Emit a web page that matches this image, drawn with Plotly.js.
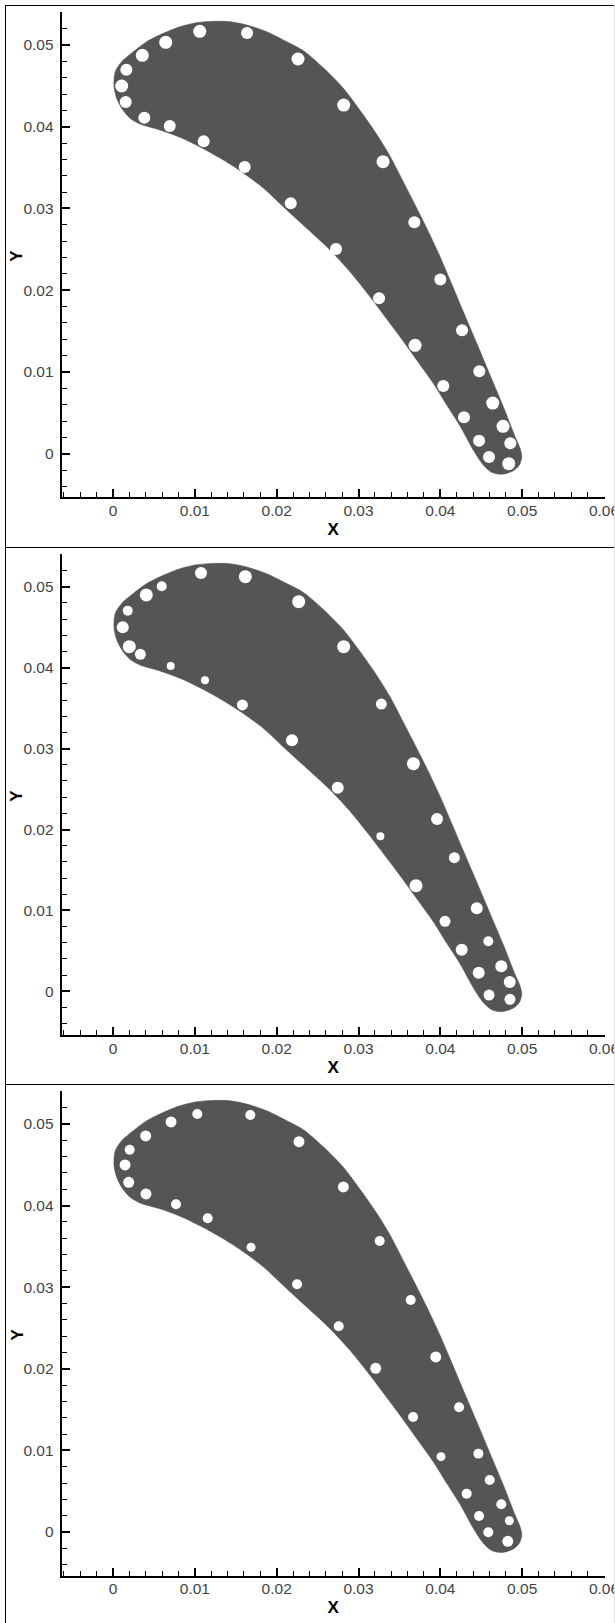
<!DOCTYPE html>
<html>
<head>
<meta charset="utf-8">
<script src="https://cdn.plot.ly/plotly-3.0.1.min.js"></script>
<style>html,body{margin:0;padding:0;background:#fff;overflow:hidden}#chart{width:615px;height:1623px}</style>
</head>
<body>
<div id="chart"></div>
<script>
const bladeX = [.00012,.00028,.00106,.00248,.00412,.00615,.00819,.01023,.01226,.01430,.01634,.01878,.02123,.02326,.02570,.02814,.03018,.03223,.03385,.03548,.03711,.03874,.03996,.04118,.04281,.04445,.04607,.04770,.04913,.04974,.04995,.04965,.04892,.04750,.04628,.04525,.04403,.04241,.04078,.03914,.03711,.03507,.03263,.03141,.02896,.02652,.02367,.02081,.01837,.01592,.01348,.01063,.00819,.00574,.00330,.00208,.00106,.00045,.00012];
const bladeY = [.04498,.04673,.04795,.04917,.05040,.05142,.05223,.05272,.05289,.05284,.05244,.05162,.05040,.04930,.04720,.04470,.04200,.03905,.03640,.03325,.03005,.02675,.02410,.02125,.01737,.01350,.00963,.00575,.00208,.00066,-.00037,-.00138,-.00208,-.00252,-.00228,-.00138,.00045,.00340,.00596,.00861,.01146,.01431,.01758,.01920,.02226,.02492,.02757,.03021,.03250,.03435,.03593,.03752,.03870,.03960,.04033,.04103,.04225,.04347,.04498];
const holes1X = [.00106,.00163,.00155,.00358,.00383,.00644,.00693,.01060,.01108,.01638,.01609,.02261,.02172,.02819,.02725,.03300,.03251,.03682,.0400,.03691,.04265,.04036,.04476,.04289,.04640,.04766,.04473,.04855,.04595,.04836];
const holes1Y = [.04498,.04697,.04302,.04873,.04110,.05032,.04008,.05167,.03821,.05146,.03507,.04828,.03063,.04265,.02504,.03572,.01901,.02831,.0213,.01326,.01509,.00828,.01008,.00445,.00620,.00335,.00159,.00127,-.00040,-.00122];
const holes1D = [.00159,.00147,.00147,.00159,.00147,.00159,.00147,.00159,.00147,.00147,.00147,.00159,.00147,.00159,.00147,.00159,.00147,.00147,.00147,.00159,.00147,.00147,.00147,.00147,.00159,.00159,.00147,.00147,.00147,.00159];
const holes2X = [.00119,.00180,.00199,.00334,.00407,.00595,.00705,.01075,.01124,.01617,.01581,.02187,.02269,.02819,.02746,.03279,.03267,.03671,.0396,.04171,.03703,.04057,.04445,.04261,.04586,.04469,.04745,.04848,.04595,.04851];
const holes2Y = [.04499,.04705,.04260,.04166,.04899,.05006,.04021,.05171,.03844,.05125,.03539,.03103,.04816,.04260,.02517,.03551,.01916,.02814,.0213,.01651,.01305,.00865,.01026,.00514,.00618,.00230,.00309,.00115,-.00046,-.00099];
const holes2D = [.00147,.00122,.00159,.00134,.00159,.00122,.00098,.00147,.00098,.00159,.00134,.00147,.00159,.00159,.00147,.00134,.00098,.00159,.00147,.00134,.00159,.00134,.00147,.00147,.00122,.00147,.00147,.00147,.00134,.00134];
const holes3X = [.00147,.00204,.00192,.00400,.00403,.00709,.00770,.01030,.01157,.01678,.01687,.02249,.02273,.02815,.02758,.03259,.03210,.03638,.03944,.04229,.03667,.04008,.04465,.04322,.04603,.04473,.04745,.04843,.04586,.04824];
const holes3Y = [.04498,.04685,.04285,.04853,.04142,.05025,.04016,.05123,.03844,.05110,.03489,.03035,.04783,.04228,.02521,.03566,.02006,.02843,.02145,.01528,.01409,.00923,.00960,.00469,.00637,.00196,.00339,.00138,-.00004,-.00114];
const holes3D = [.00134,.00122,.00134,.00134,.00134,.00134,.00122,.00122,.00122,.00122,.0011,.00122,.00134,.00134,.00122,.00122,.00134,.00122,.00134,.00122,.00122,.0011,.00122,.00122,.00122,.00122,.00122,.0011,.00122,.00134];
const majorStep = 0.01;
const minorStep = 0.002;
const xTitle = 'X';
const yTitle = 'Y';
const W = 615, H = 1623;
const pxPerUnit = 8183;
const panels = [
  {top:12.0, bottom:497.3, ymin:-0.00533, hx:holes1X, hy:holes1Y, hd:holes1D},
  {top:554.2, bottom:1035.3, ymin:-0.00544, hx:holes2X, hy:holes2Y, hd:holes2D},
  {top:1091.1, bottom:1575.7, ymin:-0.00536, hx:holes3X, hy:holes3Y, hd:holes3D}
];
const tickFont = {family:'"Liberation Sans", Arial, sans-serif', size:15.5, color:'#444'};
const titleFont = {family:'"Liberation Sans", Arial, sans-serif', size:17, color:'#000', weight:700};
const traces = [];
const layout = {width:W, height:H, margin:{l:0,r:0,t:0,b:0}, showlegend:false, paper_bgcolor:'#fff', plot_bgcolor:'#fff', shapes:[], annotations:[]};
panels.forEach((p,i)=>{
  const s = i===0 ? '' : String(i+1);
  traces.push({x:bladeX, y:bladeY, xaxis:'x'+s, yaxis:'y'+s, type:'scatter', mode:'lines',
    fill:'toself', fillcolor:'#555555', line:{color:'#555555', width:0.6, shape:'spline', smoothing:0.8}, hoverinfo:'skip'});
  traces.push({x:p.hx, y:p.hy, xaxis:'x'+s, yaxis:'y'+s, type:'scatter', mode:'markers',
    marker:{color:'#ffffff', opacity:1, size:p.hd.map(d=>d*pxPerUnit), line:{width:0}}, hoverinfo:'skip'});
  const common = {showgrid:false, zeroline:false, showline:true, linecolor:'#000', linewidth:2,
    ticks:'inside', tickcolor:'#000', tickwidth:2, ticklen:8, tickfont:tickFont,
    tickmode:'linear', tick0:0, dtick:majorStep, ticklabeloverflow:'allow',
    minor:{dtick:minorStep, tick0:0, ticks:'inside', ticklen:5, tickwidth:1, tickcolor:'#000', showgrid:false},
    fixedrange:true};
  layout['xaxis'+s] = Object.assign({}, common, {
    domain:[61.7/W, 604.5/W], range:[-0.00627,0.06006], anchor:'y'+s, ticklabelstandoff:-2,
    title:{text:xTitle, font:titleFont, standoff:5}
  });
  layout['yaxis'+s] = Object.assign({}, common, {
    domain:[1-p.bottom/H, 1-p.top/H], range:[p.ymin,0.05403], anchor:'x'+s, ticklabelstandoff:3
  });
  layout.annotations.push({text:yTitle, textangle:-90, xref:'paper', yref:'paper', x:17/W, y:1-((p.top+p.bottom)/2+1)/H,
    showarrow:false, font:titleFont, xanchor:'center', yanchor:'middle'});
});
const hline = (py,color)=>({type:'line',xref:'paper',yref:'paper',x0:5/W,x1:614/W,y0:1-py/H,y1:1-py/H,line:{color:color,width:1}});
const vline = (px,color)=>({type:'line',xref:'paper',yref:'paper',x0:px/W,x1:px/W,y0:0,y1:1-5/H,line:{color:color,width:1}});
layout.shapes = [hline(5.5,'#000'),hline(547.5,'#000'),hline(1084.5,'#000'),vline(5.5,'#000'),vline(614.5,'#ddd')];
Plotly.newPlot('chart', traces, layout, {displayModeBar:false, responsive:false});
</script>
</body>
</html>
